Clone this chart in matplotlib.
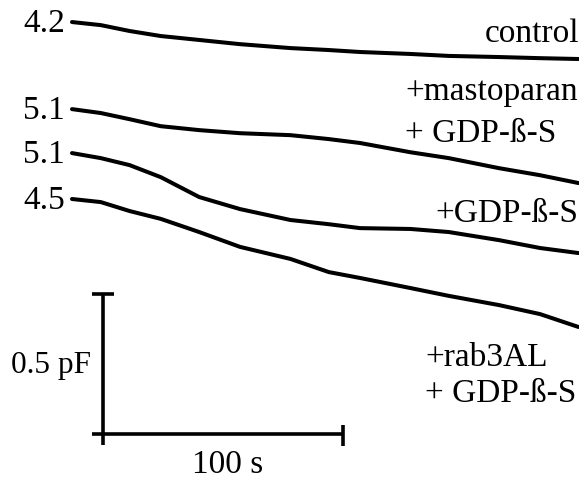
import matplotlib.pyplot as plt
import numpy as np

# time (s) and capacitance change (pF)
time_s = [0, 12, 24, 37, 53, 70, 91, 107, 120, 141, 157, 178, 195, 211]
control = [0, -0.011, -0.032, -0.050, -0.064, -0.079, -0.093, -0.100, -0.107, -0.114, -0.121, -0.125, -0.129, -0.132]
mastoparan_gdp = [0, -0.014, -0.036, -0.061, -0.075, -0.086, -0.093, -0.107, -0.121, -0.154, -0.175, -0.211, -0.236, -0.264]
gdp = [0, -0.018, -0.043, -0.086, -0.157, -0.200, -0.239, -0.254, -0.268, -0.271, -0.282, -0.311, -0.339, -0.357]
rab3al_gdp = [0, -0.011, -0.043, -0.071, -0.118, -0.171, -0.214, -0.261, -0.282, -0.318, -0.346, -0.379, -0.411, -0.457]
start_labels = ['4.2', '5.1', '5.1', '4.5']

# vertical placement of each trace (pF)
offsets = [1.632, 1.321, 1.164, 1.000]

# pixel -> data helpers (2.4 px per s, 280 px per pF)
def px2t(px):
    return (px - 72) / 2.4

def py2c(py):
    return (479 - py) / 280

plt.rcParams['font.family'] = ['Liberation Serif', 'DejaVu Serif']
fig = plt.figure(figsize=(5.79, 4.79), dpi=100)
ax = fig.add_axes([0, 0, 1, 1])
ax.set_xlim(px2t(0), px2t(579))
ax.set_ylim(py2c(479), py2c(0))
ax.axis('off')

fs = 24
traces = [control, mastoparan_gdp, gdp, rab3al_gdp]
for tr, off, lab in zip(traces, offsets, start_labels):
    ax.plot(time_s, np.array(tr) + off, color='black', lw=2.9,
            solid_capstyle='round', solid_joinstyle='round')
    ax.text(px2t(65), off - 10 / 280, lab, ha='right', va='baseline', fontsize=fs)

ax.text(px2t(579), py2c(42), 'control', ha='right', va='baseline', fontsize=fs)
ax.text(px2t(405), py2c(100), '+mastoparan', ha='left', va='baseline', fontsize=fs)
ax.text(px2t(405), py2c(142), '+ GDP-ß-S', ha='left', va='baseline', fontsize=fs)
ax.text(px2t(578), py2c(222), '+GDP-ß-S', ha='right', va='baseline', fontsize=fs)
ax.text(px2t(425), py2c(366), '+rab3AL', ha='left', va='baseline', fontsize=fs)
ax.text(px2t(425), py2c(402), '+ GDP-ß-S', ha='left', va='baseline', fontsize=fs)

# scale bars: 0.5 pF, 100 s
x0 = px2t(103)
y0 = py2c(434)
bar_kw = dict(color='black', lw=2.6, solid_capstyle='butt')
ax.plot([x0, x0], [y0 - 0.04, y0 + 0.5], **bar_kw)
ax.plot([px2t(92), px2t(114)], [y0 + 0.5, y0 + 0.5], **bar_kw)
ax.plot([px2t(92), x0 + 100], [y0, y0], **bar_kw)
ax.plot([x0 + 100, x0 + 100], [py2c(425), py2c(446)], **bar_kw)
ax.text(px2t(11), py2c(373), '0.5 pF', ha='left', va='baseline', fontsize=22.5)
ax.text(x0 + 52, py2c(473), '100 s', ha='center', va='baseline', fontsize=fs)

fig.savefig('out.png', dpi=100, facecolor='white')
